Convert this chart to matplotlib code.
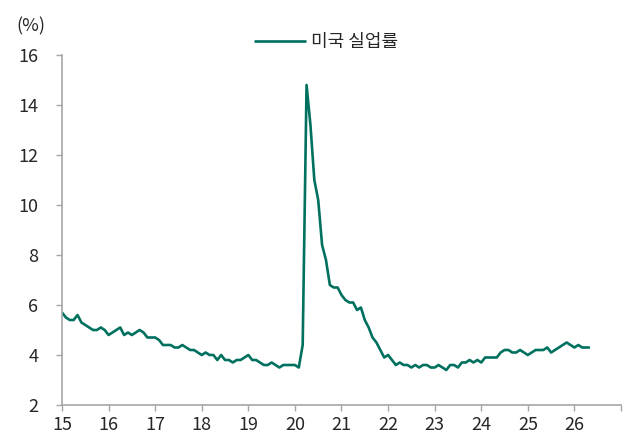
import matplotlib
matplotlib.use("Agg")
import matplotlib.pyplot as plt
import numpy as np

plt.rcParams['font.family'] = ['Noto Sans CJK KR', 'DejaVu Sans']

# Monthly US unemployment rate (%), Jan 2015 onward
rate_2015 = [5.7, 5.5, 5.4, 5.4, 5.6, 5.3, 5.2, 5.1, 5.0, 5.0, 5.1, 5.0]
rate_2016 = [4.8, 4.9, 5.0, 5.1, 4.8, 4.9, 4.8, 4.9, 5.0, 4.9, 4.7, 4.7]
rate_2017 = [4.7, 4.6, 4.4, 4.4, 4.4, 4.3, 4.3, 4.4, 4.3, 4.2, 4.2, 4.1]
rate_2018 = [4.0, 4.1, 4.0, 4.0, 3.8, 4.0, 3.8, 3.8, 3.7, 3.8, 3.8, 3.9]
rate_2019 = [4.0, 3.8, 3.8, 3.7, 3.6, 3.6, 3.7, 3.6, 3.5, 3.6, 3.6, 3.6]
rate_2020 = [3.6, 3.5, 4.4, 14.8, 13.2, 11.0, 10.2, 8.4, 7.8, 6.8, 6.7, 6.7]
rate_2021 = [6.4, 6.2, 6.1, 6.1, 5.8, 5.9, 5.4, 5.1, 4.7, 4.5, 4.2, 3.9]
rate_2022 = [4.0, 3.8, 3.6, 3.7, 3.6, 3.6, 3.5, 3.6, 3.5, 3.6, 3.6, 3.5]
rate_2023 = [3.5, 3.6, 3.5, 3.4, 3.6, 3.6, 3.5, 3.7, 3.7, 3.8, 3.7, 3.8]
rate_2024 = [3.7, 3.9, 3.9, 3.9, 3.9, 4.1, 4.2, 4.2, 4.1, 4.1, 4.2, 4.1]
rate_2025 = [4.0, 4.1, 4.2, 4.2, 4.2, 4.3, 4.1, 4.2, 4.3, 4.4, 4.5, 4.4]
rate_2026 = [4.3, 4.4, 4.3, 4.3, 4.3]

start_year = 15
series_label = '미국 실업률'
x_tick_years = list(range(15, 28))
x_tick_labels = [str(y) for y in range(15, 27)] + ['']
y_ticks = [2, 4, 6, 8, 10, 12, 14, 16]
unit_label = '(%)'

values = (rate_2015 + rate_2016 + rate_2017 + rate_2018 + rate_2019 + rate_2020 +
          rate_2021 + rate_2022 + rate_2023 + rate_2024 + rate_2025 + rate_2026)
x = start_year + np.arange(len(values)) / 12.0

line_color = '#00705f'
axis_color = '#a6a6a6'
text_color = '#262626'

fig = plt.figure(figsize=(6.28, 4.37), dpi=100)
ax = fig.add_axes([62/628, 32/437, (621-62)/628, (405-55)/437])

ax.plot(x, values, color=line_color, lw=1.9, label=series_label,
        solid_joinstyle='round', solid_capstyle='butt')

ax.set_xlim(15, 27)
ax.set_ylim(2, 16)
ax.set_xticks(x_tick_years)
ax.set_xticklabels(x_tick_labels)
ax.set_yticks(y_ticks)

for s in ['top', 'right']:
    ax.spines[s].set_visible(False)
for s in ['left', 'bottom']:
    ax.spines[s].set_color(axis_color)
    ax.spines[s].set_linewidth(1.2)

ax.tick_params(axis='y', length=4, width=1.0, color=axis_color, pad=13,
               labelsize=13, labelcolor=text_color)
ax.tick_params(axis='x', length=4, width=1.0, color=axis_color, pad=4,
               labelsize=13, labelcolor=text_color)

fig.text(16/628, 1 - 26/437, unit_label, ha='left', va='center',
         fontsize=13, color=text_color)

leg = ax.legend(loc='center', bbox_to_anchor=(326/628, 1 - 42/437),
                bbox_transform=fig.transFigure, frameon=False,
                fontsize=13, handlelength=2.9, handletextpad=0.3,
                borderpad=0, borderaxespad=0)
for t in leg.get_texts():
    t.set_color(text_color)

fig.savefig('out.png', dpi=100)
